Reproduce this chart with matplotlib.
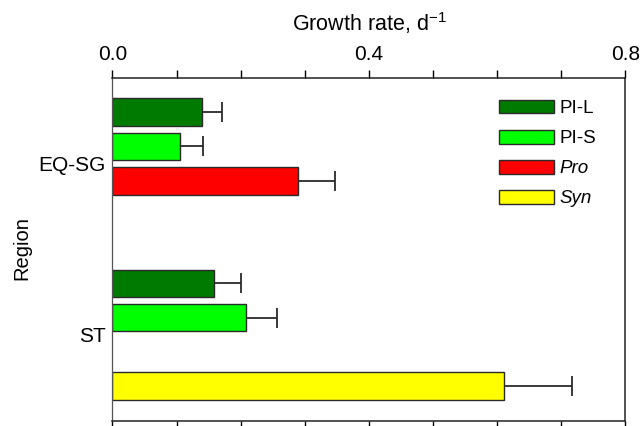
import numpy as np
import matplotlib
matplotlib.use("Agg")
import matplotlib.pyplot as plt
from matplotlib.patches import Patch

plt.rcParams['font.family'] = ['Liberation Sans', 'DejaVu Sans']
plt.rcParams['mathtext.fontset'] = 'custom'
plt.rcParams['mathtext.rm'] = 'Liberation Sans'
plt.rcParams['mathtext.it'] = 'Liberation Sans:italic'

regions = ['EQ-SG', 'ST']
series = ['PI-L', 'PI-S', 'Pro', 'Syn']
colors = ['#017a01', '#00ff00', '#ff0000', '#ffff00']
values = {
    'PI-L': [0.139, 0.159],
    'PI-S': [0.106, 0.208],
    'Pro':  [0.290, np.nan],
    'Syn':  [np.nan, 0.611],
}
errors = {
    'PI-L': [0.031, 0.042],
    'PI-S': [0.035, 0.048],
    'Pro':  [0.057, np.nan],
    'Syn':  [np.nan, 0.105],
}

fig = plt.figure(figsize=(6.41, 4.26), dpi=100)
ax = fig.add_axes([0.1755, 0.0117, 0.9758 - 0.1755, 0.8169 - 0.0117])

group_base = [0, 5]
bar_h = 0.81
for si, s in enumerate(series):
    for gi, g in enumerate(regions):
        v = values[s][gi]
        if np.isnan(v):
            continue
        y = group_base[gi] + si
        ax.barh(y, v, height=bar_h, color=colors[si], edgecolor='#2a2a2a',
                linewidth=1.0, zorder=2)
        e = errors[s][gi]
        ax.errorbar(v, y, xerr=[[0], [e]], fmt='none', ecolor='#2a2a2a',
                    elinewidth=1.3, capsize=7, capthick=1.3, zorder=1)

ax.set_xlim(0, 0.8)
ax.set_ylim(9.02, -1.0)
ax.set_yticks([1.5, 6.5])
ax.set_yticklabels(regions, fontsize=15)
ax.tick_params(axis='y', length=0, pad=5)

ax.xaxis.set_ticks_position('both')
ax.xaxis.set_label_position('top')
ax.set_xticks(np.arange(0, 0.81, 0.1))
ax.set_xticklabels(['0.0', '', '', '', '0.4', '', '', '', '0.8'])
ax.tick_params(axis='x', which='both', direction='out', length=6, width=1.0,
               labeltop=True, labelbottom=False, labelsize=15, pad=4)
ax.set_xlabel(r'Growth rate, d$^{\mathregular{-1}}$', fontsize=15.5, labelpad=10)
ax.set_ylabel('Region', fontsize=14.5)
ax.yaxis.set_label_coords(-0.158, 0.505)

for sp in ax.spines.values():
    sp.set_linewidth(1.1)
    sp.set_color('#222222')
ax.spines['left'].set_color('#555555')
ax.spines['left'].set_linewidth(0.9)

handles = [Patch(facecolor=c, edgecolor='#2a2a2a', linewidth=1.0) for c in colors]
leg = ax.legend(handles, series, loc='upper left', bbox_to_anchor=(0.753, 0.937),
                frameon=False, fontsize=13.5, handlelength=2.95, handleheight=0.75,
                labelspacing=0.68, handletextpad=0.3, borderpad=0, borderaxespad=0)
for t in leg.get_texts():
    if t.get_text() in ('Pro', 'Syn'):
        t.set_style('italic')

fig.savefig('out.png', dpi=100)
